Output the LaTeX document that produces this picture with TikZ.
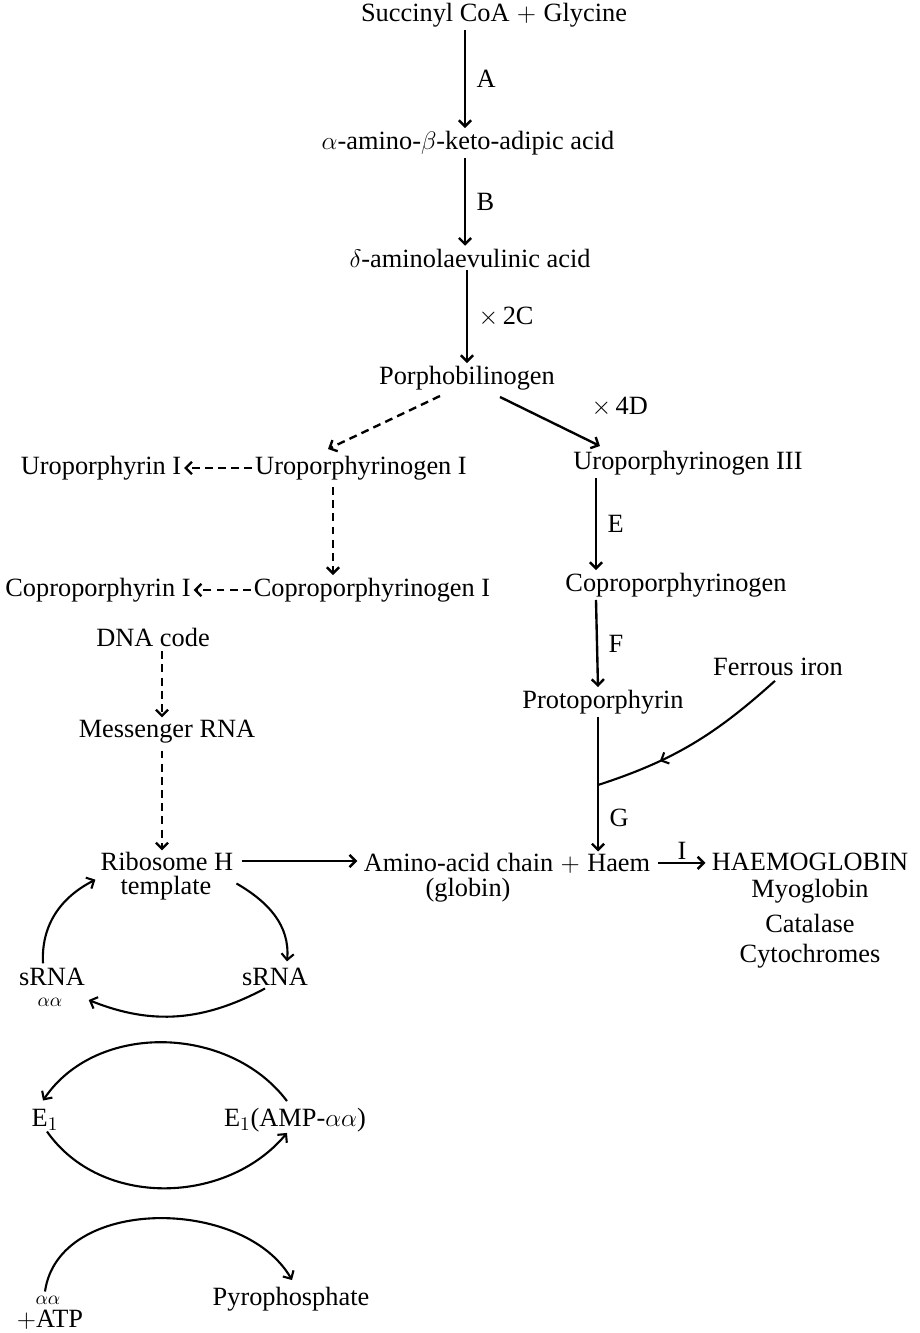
\documentclass[tikz,border=0pt]{standalone}
\usepackage{fontspec}
\setmainfont{Liberation Serif}
\usetikzlibrary{arrows.meta, calc, positioning, decorations.markings}

\newcommand{\chemsize}{\fontsize{15}{17}\selectfont}

\tikzset{
  chem/.style={font=\chemsize, inner sep=1.5pt},
  stack/.style={font=\chemsize, inner sep=0.5pt, anchor=base},
  tiny/.style={font=\fontsize{11}{12}\selectfont, inner sep=0pt},
  enz/.style={font=\chemsize, inner sep=1pt, right=5pt},
  react/.style={->, line width=1.35pt},
  side/.style={->, line width=1.35pt, dash pattern=on 4.5pt off 3pt},
  turnover/.style={->, line width=1.2pt},
  midarrow/.style={decoration={markings, mark=at position #1 with {\arrow{>}}}, postaction={decorate}},
}

\begin{document}
\begin{tikzpicture}[x=0.02cm, y=-0.02cm, >={Straight Barb[length=3.5pt, width=7pt]}]
  \useasboundingbox (0,0) rectangle (920,1333);

  % --- Porphyrin chain ---
  \node[chem] (succ) at (494,15) {Succinyl CoA\;$+$\;Glycine};
  \node[chem] (amab) at (468,143) {$\alpha$-amino-$\beta$-keto-adipic acid};
  \node[chem] (ala)  at (470,258) {$\delta$-aminolaevulinic acid};
  \node[chem] (pbg)  at (467,378) {Porphobilinogen};

  \draw[react] ($(amab.north |- succ.south)+(-3,0)$) -- node[enz] {A} ($(amab.north)+(-3,0)$);
  \draw[react] ($(ala.north |- amab.south)+(-5,0)$) -- node[enz] {B} ($(ala.north)+(-5,0)$);
  \draw[react] (pbg.north |- ala.south) -- node[enz] {$\times$\,2C} (pbg.north);

  % --- Type I isomers (dashed) ---
  \node[chem] (uro1)  at (361,468) {Uroporphyrinogen I};
  \node[chem] (uroI)  at (101,468) {Uroporphyrin I};
  \node[chem] (cpg1)  at (372,590) {Coproporphyrinogen I};
  \node[chem] (copI)  at (98,590)  {Coproporphyrin I};

  \draw[side] ($(pbg.south)+(-27,3)$) -- ($(uro1.north)+(-33,-4)$);
  \draw[side] (uro1.west) -- (uroI.east);
  \draw[side] ($(uro1.south)+(-28,4)$) -- ($(cpg1.north)+(-39,0)$);
  \draw[side] (cpg1.west) -- (copI.east);

  % --- Type III isomers ---
  \node[chem] (uro3)  at (688,463) {Uroporphyrinogen III};
  \node[chem] (cpg)   at (676,585) {Coproporphyrinogen};
  \node[chem] (proto) at (603,702) {Protoporphyrin};
  \node[chem] (fe)    at (778,667) {Ferrous iron};
  \coordinate (join) at (598,785);

  \draw[react] ($(pbg.south)+(33,4)$) -- node[enz, pos=0.5, above right=1pt and 22pt] {$\times$\,4D} ($(uro3.north)+(-88,-2)$);
  \draw[react] ($(uro3.south)+(-92,0)$) -- node[enz] {E} ($(cpg.north)+(-80,0)$);
  \draw[react] ($(cpg.south)+(-80,0)$) -- node[enz] {F} ($(proto.north)+(-5,0)$);
  \draw[line width=1.35pt] (join |- proto.south) -- (join);
  \draw[line width=1.2pt, midarrow=0.68] ($(fe.south)+(-3,2)$) to[out=222, in=18] (join);

  % --- Globin and products ---
  \node[stack] (chain)  at (507,871) {Amino-acid chain\;$+$\;Haem};
  \node[stack] (globin) at (468,896) {(globin)};
  \node[stack] (hb)     at (810,870) {HAEMOGLOBIN};
  \node[stack] (mb)     at (810,897) {Myoglobin};
  \node[stack] (cat)    at (810,932) {Catalase};
  \node[stack] (cyt)    at (810,962) {Cytochromes};

  \draw[react] (join) -- node[enz] {G} (join |- chain.north);
  \draw[react] ([xshift=4pt]chain.east) -- node[font=\chemsize, above, inner sep=1pt] {I} ([xshift=-3pt]chain.east -| hb.west);

  % --- Protein synthesis ---
  \node[chem]  (dna)  at (153,637) {DNA code};
  \node[chem]  (mrna) at (167,732) {Messenger RNA};
  \node[stack] (ribA) at (167,870) {Ribosome H};
  \node[stack] (ribB) at (166,894) {template};

  \draw[side] ($(dna.south)+(9,2)$) -- ($(mrna.north)+(-5,0)$);
  \draw[side] ($(mrna.south)+(-5,4)$) -- ($(ribA.north)+(-5,0)$);
  \draw[react] ([xshift=4pt]ribA.east) -- ([xshift=-3pt]ribA.east -| chain.west);

  % sRNA cycle
  \node[stack] (srnaL) at (52,985)  {sRNA};
  \node[tiny]  (aaL)   at (50,1002) {$\alpha\alpha$};
  \node[stack] (srnaR) at (275,985) {sRNA};

  \draw[turnover] ($(srnaL.north)+(-9,-3)$) to[out=93, in=207] ($(ribB.west)+(-24,-8)$);
  \draw[turnover] ($(ribA.south east)+(2,12)$) to[out=-30, in=85] ($(srnaR.north)+(12,-5)$);
  \draw[turnover] ($(srnaR.south)+(-10,2)$) to[out=-152, in=-22] ($(aaL.east)+(26,-2)$);

  % activating enzyme cycle
  \node[chem] (e1)    at (45,1120)  {E$_1$};
  \node[chem] (e1amp) at (295,1120) {E$_1$(AMP-$\alpha\alpha$)};

  \draw[turnover] ($(e1amp.north)+(-8,-4)$) to[out=127, in=56] ($(e1.north)+(-2,-6)$);
  \draw[turnover] ($(e1.south)+(2,-2)$) to[out=-55, in=-130] ($(e1amp.south)+(-8,-2)$);

  % ATP cycle
  \node[tiny]  (aaB)  at (48,1300)  {$\alpha\alpha$};
  \node[stack] (atp)  at (50,1327)  {$+$ATP};
  \node[chem]  (pyro) at (291,1299) {Pyrophosphate};

  \draw[turnover] ($(aaB.north)+(-3,-4)$) to[out=82, in=120] ($(pyro.north)+(1,-4)$);

\end{tikzpicture}
\end{document}
